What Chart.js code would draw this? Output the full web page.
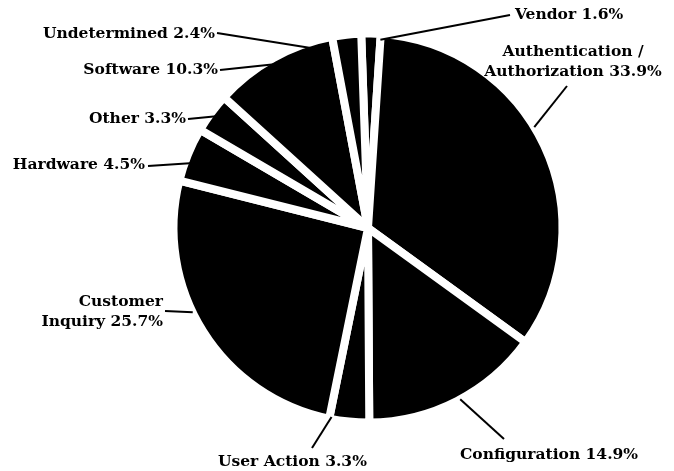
<!DOCTYPE html>
<html>
<head>
<meta charset="utf-8">
<script src="https://cdn.jsdelivr.net/npm/chart.js@4.4.1/dist/chart.umd.min.js"></script>
<style>
  html, body { margin: 0; padding: 0; background: #fff; }
  #wrap { width: 674px; height: 471px; }
</style>
</head>
<body>
<div id="wrap"><canvas id="cause-pie"></canvas></div>
<script>
// Incident causes, clockwise from the top
const categories = ['Vendor', 'Authentication / Authorization', 'Configuration', 'User Action',
  'Customer Inquiry', 'Hardware', 'Other', 'Software', 'Undetermined'];
const shares = [1.6, 33.9, 14.9, 3.3, 25.7, 4.5, 3.3, 10.3, 2.4];

// Callout placement: text anchor, alignment, where the leader line leaves the text,
// and where along the slice (fraction of its sweep, fraction of radius) it lands.
const callouts = [
  { x: 515, y: 15,  align: 'left',   wrap: 0, lx: 510, ly: 15,  frac: 1.0,  rad: 0.97 },
  { x: 573, y: 52,  align: 'center', wrap: 2, lx: 567, ly: 86,  frac: 0.45, rad: 1.0 },
  { x: 460, y: 455, align: 'left',   wrap: 0, lx: 504, ly: 439, frac: 0.48, rad: 1.0 },
  { x: 218, y: 462, align: 'left',   wrap: 0, lx: 312, ly: 448, frac: 0.95, rad: 0.99 },
  { x: 163, y: 302, align: 'right',  wrap: 1, lx: 165, ly: 311, frac: 0.57, rad: 1.0 },
  { x: 145, y: 165, align: 'right',  wrap: 0, lx: 148, ly: 166, frac: 0.42, rad: 0.94 },
  { x: 186, y: 119, align: 'right',  wrap: 0, lx: 188, ly: 119, frac: 0.69, rad: 0.93 },
  { x: 218, y: 70,  align: 'right',  wrap: 0, lx: 220, ly: 70,  frac: 0.52, rad: 0.96 },
  { x: 215, y: 34,  align: 'right',  wrap: 0, lx: 217, ly: 33,  frac: -0.5, rad: 0.95 }
];

const calloutPlugin = {
  id: 'callouts',
  afterDraw(chart) {
    const ctx = chart.ctx;
    const arcs = chart.getDatasetMeta(0).data;
    ctx.save();
    ctx.fillStyle = '#000';
    ctx.strokeStyle = '#000';
    ctx.lineWidth = 2;
    ctx.font = 'bold 15.5px "DejaVu Serif"';
    ctx.textBaseline = 'middle';
    arcs.forEach((arc, i) => {
      const c = callouts[i];
      const p = arc.getProps(['x', 'y', 'startAngle', 'endAngle', 'outerRadius'], true);
      const a = p.startAngle + c.frac * (p.endAngle - p.startAngle);
      const r = p.outerRadius * c.rad;
      ctx.beginPath();
      ctx.moveTo(c.lx, c.ly);
      ctx.lineTo(p.x + Math.cos(a) * r, p.y + Math.sin(a) * r);
      ctx.stroke();

      const words = (categories[i] + ' ' + shares[i].toFixed(1) + '%').split(' ');
      const lines = c.wrap ? [words.slice(0, c.wrap).join(' '), words.slice(c.wrap).join(' ')] : [words.join(' ')];
      ctx.textAlign = c.align;
      lines.forEach((t, k) => ctx.fillText(t, c.x, c.y + k * 20));
    });
    ctx.restore();
  }
};

new Chart(document.getElementById('cause-pie'), {
  type: 'pie',
  data: {
    labels: categories,
    datasets: [{
      data: shares,
      backgroundColor: '#000',
      borderColor: '#fff',
      borderWidth: 8
    }]
  },
  options: {
    responsive: true,
    maintainAspectRatio: false,
    animation: false,
    rotation: -2,
    radius: 194.5,
    layout: { padding: { left: 62, right: 0, top: 0, bottom: 15 } },
    plugins: {
      legend: { display: false },
      tooltip: { enabled: false }
    }
  },
  plugins: [calloutPlugin]
});
</script>
</body>
</html>
